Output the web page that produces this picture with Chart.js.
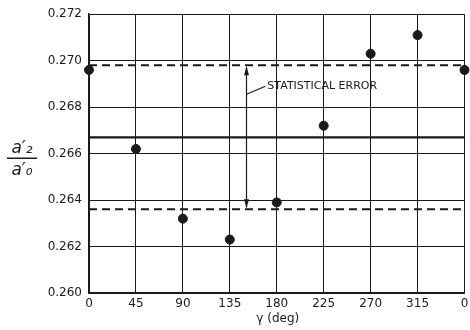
<!DOCTYPE html>
<html>
<head>
<meta charset="utf-8">
<script src="https://cdn.jsdelivr.net/npm/chart.js@4/dist/chart.umd.min.js"></script>
<style>
  html, body { margin: 0; padding: 0; background: #fff; }
  canvas { display: block; }
</style>
</head>
<body>
<canvas id="chart" width="470" height="330"></canvas>
<script>
// measured ratio a'2/a'0 against rotation angle gamma
const angles = [0, 45, 90, 135, 180, 225, 270, 315, 360];
const ratios = [0.2696, 0.2662, 0.2632, 0.2623, 0.2639, 0.2672, 0.2703, 0.2711, 0.2696];
const meanRatio = 0.2667;
const errorLow = 0.2636;
const errorHigh = 0.2698;
const xTickLabels = ["0", "45", "90", "135", "180", "225", "270", "315", "0"];
const arrowAngle = 151;
const noteAngle = 171;
const noteRatio = 0.2689;
const noteText = "STATISTICAL ERROR";

const ink = "#1a1a1a";
const tickFont = { family: "DejaVu Sans", size: 12 };

function flat(value) {
  return [{ x: angles[0], y: value }, { x: angles[angles.length - 1], y: value }];
}

const annotations = {
  id: "annotations",
  afterDatasetsDraw(chart) {
    const { ctx, scales } = chart;
    const x = scales.x.getPixelForValue(arrowAngle);
    const yTop = scales.y.getPixelForValue(errorHigh);
    const yBot = scales.y.getPixelForValue(errorLow);
    ctx.save();
    ctx.strokeStyle = ink;
    ctx.fillStyle = ink;
    ctx.lineWidth = 1.2;

    // double arrow across the error band
    ctx.beginPath();
    ctx.moveTo(x, yTop + 2);
    ctx.lineTo(x, yBot - 2);
    ctx.stroke();
    [[yTop + 1, 1], [yBot - 1, -1]].forEach(([tip, dir]) => {
      ctx.beginPath();
      ctx.moveTo(x, tip);
      ctx.lineTo(x - 2.5, tip + dir * 9);
      ctx.lineTo(x + 2.5, tip + dir * 9);
      ctx.closePath();
      ctx.fill();
    });

    // leader + note
    const nx = scales.x.getPixelForValue(noteAngle);
    const ny = scales.y.getPixelForValue(noteRatio);
    ctx.beginPath();
    ctx.moveTo(x, ny + 8);
    ctx.lineTo(nx - 2, ny);
    ctx.stroke();
    ctx.font = "11px 'DejaVu Sans'";
    ctx.textAlign = "left";
    ctx.textBaseline = "middle";
    ctx.fillText(noteText, nx, ny);

    // x axis title
    const area = chart.chartArea;
    ctx.font = "12px 'DejaVu Sans'";
    ctx.textAlign = "center";
    ctx.fillText("\u03b3 (deg)", (area.left + area.right) / 2 + 1, 319);

    // y axis title as a fraction a'2 / a'0
    const cx = 22;
    const cy = scales.y.getPixelForValue(0.2658);
    ctx.font = "italic 17px 'DejaVu Sans'";
    ctx.textAlign = "center";
    ctx.textBaseline = "alphabetic";
    ctx.fillText("a\u2032\u2082", cx, cy - 5);
    ctx.fillText("a\u2032\u2080", cx, cy + 17);
    ctx.lineWidth = 1.5;
    ctx.beginPath();
    ctx.moveTo(cx - 15, cy);
    ctx.lineTo(cx + 15, cy);
    ctx.stroke();
    ctx.restore();
  }
};

new Chart(document.getElementById("chart"), {
  type: "scatter",
  data: {
    datasets: [
      {
        data: angles.map((a, i) => ({ x: a, y: ratios[i] })),
        backgroundColor: ink,
        borderColor: ink,
        pointRadius: 4.5,
        pointHoverRadius: 4.5
      },
      {
        type: "line",
        data: flat(meanRatio),
        borderColor: ink,
        borderWidth: 2.2,
        pointRadius: 0
      },
      {
        type: "line",
        data: flat(errorHigh),
        borderColor: ink,
        borderWidth: 2,
        borderDash: [8, 5],
        pointRadius: 0
      },
      {
        type: "line",
        data: flat(errorLow),
        borderColor: ink,
        borderWidth: 2,
        borderDash: [8, 5],
        pointRadius: 0
      }
    ]
  },
  options: {
    responsive: false,
    animation: false,
    clip: false,
    layout: { padding: { top: 13, right: 2, left: 0, bottom: 0 } },
    plugins: { legend: { display: false }, tooltip: { enabled: false } },
    scales: {
      x: {
        type: "linear",
        min: 0,
        max: 360,
        afterFit(scale) {
          scale.height = 37;
          scale.paddingRight = 0;
          scale.paddingLeft = 0;
        },
        afterBuildTicks(scale) { scale.ticks = angles.map((v) => ({ value: v })); },
        grid: { color: ink, lineWidth: 1, drawTicks: false },
        border: { color: ink, width: 1.5 },
        ticks: {
          color: ink,
          font: tickFont,
          padding: 4,
          maxRotation: 0,
          autoSkip: false,
          callback: (v) => xTickLabels[angles.indexOf(v)]
        }
      },
      y: {
        min: 0.26,
        max: 0.272,
        afterFit(scale) { scale.width = 89; },
        grid: { color: ink, lineWidth: 1, drawTicks: false },
        border: { color: ink, width: 1.5 },
        ticks: {
          stepSize: 0.002,
          color: ink,
          font: tickFont,
          padding: 7,
          callback: (v) => v.toFixed(3)
        }
      }
    }
  },
  plugins: [annotations]
});
</script>
</body>
</html>
